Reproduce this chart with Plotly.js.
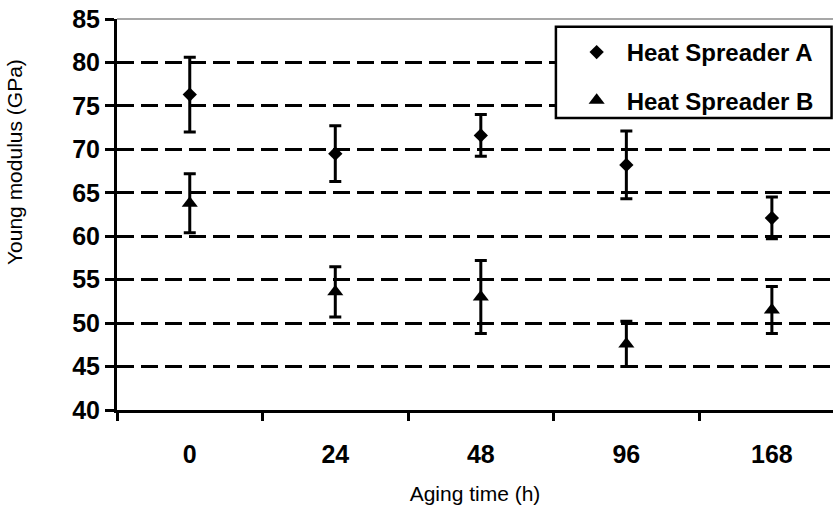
<!DOCTYPE html>
<html>
<head>
<meta charset="utf-8">
<script src="https://cdn.plot.ly/plotly-3.0.1.min.js"></script>
<style>html,body{margin:0;padding:0;background:#fff;}#chart{width:833px;height:506px;}</style>
</head>
<body>
<div id="chart"></div>
<script>
// Data
var categories = ["0", "24", "48", "96", "168"];
var spreaderA = [76.3, 69.5, 71.6, 68.2, 62.1];
var spreaderAErr = [4.3, 3.2, 2.4, 3.9, 2.4];
var spreaderB = [63.8, 53.6, 53.0, 47.6, 51.5];
var spreaderBErr = [3.4, 2.9, 4.2, 2.6, 2.7];
var yTicks = [40, 45, 50, 55, 60, 65, 70, 75, 80, 85];
var gridTicks = [45, 50, 55, 60, 65, 70, 75, 80];

var tickFont = {family: "Liberation Sans, Arial, sans-serif", size: 25, color: "#000", weight: "bold"};
var titleFont = {family: "Liberation Sans, Arial, sans-serif", size: 21, color: "#000"};

var traces = [
  {
    x: categories, y: spreaderA, type: "scatter", mode: "markers",
    name: "Heat Spreader A", legendgroup: "a", yaxis: "y",
    marker: {symbol: "diamond", size: 11, color: "#000"},
    error_y: {type: "data", array: spreaderAErr, visible: true, color: "#000", thickness: 3, width: 6}
  },
  {
    x: categories, y: spreaderB, type: "scatter", mode: "markers",
    name: "Heat Spreader B", legendgroup: "b", yaxis: "y2",
    marker: {symbol: "triangle-up", size: 14, color: "#000"},
    error_y: {type: "data", array: spreaderBErr, visible: true, color: "#000", thickness: 3, width: 6}
  }
];

var layout = {
  width: 833, height: 506,
  margin: {l: 117, r: 0, t: 19, b: 96},
  paper_bgcolor: "#fff", plot_bgcolor: "#fff",
  showlegend: true,
  xaxis: {
    type: "category", categoryorder: "array", categoryarray: categories,
    range: [-0.5, 4.42],
    showgrid: false, zeroline: false,
    showline: true, linecolor: "#000", linewidth: 3,
    ticks: "outside", tickson: "boundaries", ticklen: 8, tickwidth: 3, tickcolor: "#000",
    tickfont: tickFont, ticklabelstandoff: 20,
    title: {text: "Aging time (h)", font: titleFont, standoff: 20}
  },
  yaxis: {
    range: [40, 85], tickvals: yTicks, ticksuffix: "\u2002",
    showgrid: false, zeroline: false,
    showline: true, linecolor: "#000", linewidth: 3,
    ticks: "outside", ticklen: 9, tickwidth: 3, tickcolor: "#000",
    tickfont: tickFont, automargin: false
  },
  yaxis2: {
    overlaying: "y", range: [40, 85], tickvals: gridTicks,
    showgrid: true, gridcolor: "#000", gridwidth: 3, griddash: "17px,7px",
    showticklabels: false, ticks: "", showline: false, zeroline: false
  },
  legend: {
    x: 0.628, xanchor: "left", y: 0.972, yanchor: "top",
    bgcolor: "rgba(0,0,0,0)", borderwidth: 0, itemwidth: 50,
    font: {family: "Liberation Sans, Arial, sans-serif", size: 24, color: "#000", weight: "bold"},
    tracegroupgap: 14, traceorder: "grouped"
  },
  shapes: [
    {type: "line", xref: "paper", yref: "paper", x0: 0, x1: 1, y0: 1, y1: 1,
     line: {color: "#8a8a8a", width: 1.5}, layer: "above"},
    {type: "rect", xref: "paper", yref: "paper", x0: 0.613, x1: 0.998, y0: 0.747, y1: 0.98,
     fillcolor: "#fff", line: {color: "#000", width: 2.5}, layer: "above"}
  ],
  annotations: [
    {text: "Young modulus (GPa)", xref: "paper", yref: "paper", x: -0.144, y: 0.634,
     xanchor: "center", yanchor: "middle", textangle: -90, showarrow: false, font: titleFont}
  ]
};

Plotly.newPlot("chart", traces, layout, {displayModeBar: false, staticPlot: true});
</script>
</body>
</html>
